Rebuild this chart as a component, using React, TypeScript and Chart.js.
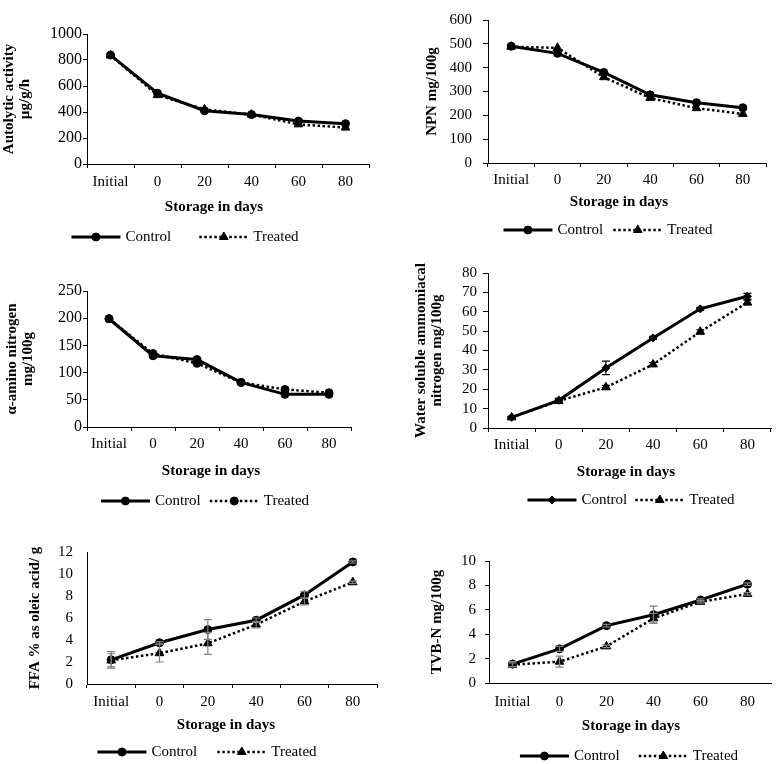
import React, { useEffect, useRef } from 'react';
import { Chart, registerables } from 'chart.js';
import { drawPoint } from 'chart.js/helpers';

Chart.register(...registerables);

// ---------- data ----------
const categories = ['Initial', '0', '20', '40', '60', '80'];
const seriesNames = ['Control', 'Treated'];
const xAxisTitle = 'Storage in days';

const autolyticControl = [838, 545, 410, 380, 330, 310];
const autolyticTreated = [835, 530, 420, 380, 305, 280];

const npnControl = [490, 460, 380, 286, 253, 232];
const npnTreated = [488, 483, 360, 273, 230, 206];

const aminoControl = [199, 131, 124, 82, 60, 60];
const aminoTreated = [199, 135, 117, 82, 69, 63];

const wsanControl = [5.5, 14.3, 31, 46.5, 61.5, 68];
const wsanTreated = [5.5, 14, 21, 32.8, 49.7, 64.8];
const wsanControlErr = [0.5, 1, 3.5, 0.8, 0.8, 1.5];
const wsanTreatedErr = [0.5, 0.8, 1, 1, 1, 1.2];

const ffaControl = [2.2, 3.75, 4.95, 5.8, 8.1, 11.1];
const ffaTreated = [2.15, 2.8, 3.7, 5.4, 7.5, 9.25];
const ffaControlErr = [0.75, 0.1, 0.9, 0.2, 0.3, 0.1];
const ffaTreatedErr = [0.6, 0.8, 1.0, 0.3, 0.3, 0.1];

const tvbnControl = [1.55, 2.8, 4.7, 5.6, 6.8, 8.1];
const tvbnTreated = [1.5, 1.75, 3.0, 5.3, 6.65, 7.3];
const tvbnControlErr = [0.2, 0.2, 0.1, 0.7, 0.1, 0.1];
const tvbnTreatedErr = [0.15, 0.45, 0.1, 0.4, 0.1, 0.1];

const FONT = '"Liberation Serif", "Times New Roman", serif';
const FS = 15;
const TITLE_LH = 1.1;

interface PanelSpec {
  left: number; top: number; w: number; h: number;
  chartL: number; chartR: number; chartT: number; chartB: number;
  titleLine1X: number;
  yTitle: string | string[]; yMax: number; yStep: number;
  control: number[]; treated: number[];
  controlErr?: number[]; treatedErr?: number[]; errColor?: string;
  controlMarker: string; controlRadius: number;
  treatedMarker: string; treatedRadius: number;
  yTickFont: number;
  yTickLen: number; yTickPad: number; yTicksShow: boolean; xTicksShow: boolean;
  xLabelY: number; xTitleX: number; xTitleY: number;
  legendX: number; legendY: number; legendGap: number;
}

const panels: PanelSpec[] = [
  {
    left: 0, top: 0, w: 390, h: 250,
    chartL: 87, chartR: 369, chartT: 34, chartB: 164, titleLine1X: 9,
    yTitle: ['Autolytic activity', 'µg/g/h'], yMax: 1000, yStep: 200,
    control: autolyticControl, treated: autolyticTreated,
    controlMarker: 'circle', controlRadius: 4, treatedMarker: 'triangle', treatedRadius: 5,
    yTickFont: 16, yTickLen: 4, yTickPad: 1, yTicksShow: true, xTicksShow: true,
    xLabelY: 182, xTitleX: 214, xTitleY: 207, legendX: 185, legendY: 237, legendGap: 28,
  },
  {
    left: 390, top: 0, w: 387, h: 250,
    chartL: 488, chartR: 766, chartT: 8, chartB: 163, titleLine1X: 432.5,
    yTitle: 'NPN mg/100g', yMax: 600, yStep: 100,
    control: npnControl, treated: npnTreated,
    controlMarker: 'circle', controlRadius: 4, treatedMarker: 'triangle', treatedRadius: 5,
    yTickFont: 15, yTickLen: 5, yTickPad: 11, yTicksShow: true, xTicksShow: true,
    xLabelY: 180, xTitleX: 619, xTitleY: 202, legendX: 608, legendY: 230, legendGap: 10,
  },
  {
    left: 0, top: 250, w: 390, h: 270,
    chartL: 87, chartR: 351, chartT: 291, chartB: 427, titleLine1X: 12,
    yTitle: ['α-amino nitrogen', 'mg/100g'], yMax: 250, yStep: 50,
    control: aminoControl, treated: aminoTreated,
    controlMarker: 'circle', controlRadius: 4, treatedMarker: 'circle', treatedRadius: 4,
    yTickFont: 16, yTickLen: 4, yTickPad: 1, yTicksShow: true, xTicksShow: true,
    xLabelY: 444, xTitleX: 211, xTitleY: 471, legendX: 205, legendY: 501, legendGap: 9,
  },
  {
    left: 390, top: 250, w: 387, h: 270,
    chartL: 488, chartR: 776, chartT: 273, chartB: 428, titleLine1X: 421,
    yTitle: ['Water soluble ammomiacal', 'nitrogen mg/100g'], yMax: 80, yStep: 10,
    control: wsanControl, treated: wsanTreated,
    controlErr: wsanControlErr, treatedErr: wsanTreatedErr, errColor: '#000000',
    controlMarker: 'rectRot', controlRadius: 4, treatedMarker: 'triangle', treatedRadius: 5,
    yTickFont: 15, yTickLen: 5, yTickPad: 6, yTicksShow: true, xTicksShow: true,
    xLabelY: 445, xTitleX: 626, xTitleY: 472, legendX: 631, legendY: 500, legendGap: 8,
  },
  {
    left: 0, top: 520, w: 390, h: 244,
    chartL: 87, chartR: 377, chartT: 552, chartB: 684, titleLine1X: 35,
    yTitle: 'FFA % as oleic acid/ g', yMax: 12, yStep: 2,
    control: ffaControl, treated: ffaTreated,
    controlErr: ffaControlErr, treatedErr: ffaTreatedErr, errColor: '#808080',
    controlMarker: 'circle', controlRadius: 4, treatedMarker: 'triangle', treatedRadius: 5,
    yTickFont: 15, yTickLen: 4, yTickPad: 10, yTicksShow: false, xTicksShow: true,
    xLabelY: 702, xTitleX: 226, xTitleY: 725, legendX: 207, legendY: 752, legendGap: 20,
  },
  {
    left: 390, top: 520, w: 387, h: 244,
    chartL: 489, chartR: 773, chartT: 561, chartB: 683, titleLine1X: 437,
    yTitle: 'TVB-N mg/100g', yMax: 10, yStep: 2,
    control: tvbnControl, treated: tvbnTreated,
    controlErr: tvbnControlErr, treatedErr: tvbnTreatedErr, errColor: '#808080',
    controlMarker: 'circle', controlRadius: 4, treatedMarker: 'triangle', treatedRadius: 5,
    yTickFont: 15, yTickLen: 4, yTickPad: 9, yTicksShow: true, xTicksShow: false,
    xLabelY: 702, xTitleX: 631, xTitleY: 726, legendX: 629, legendY: 756, legendGap: 19,
  },
];

function makeOverlay(s: PanelSpec) {
  return {
    id: 'overlay',
    afterDatasetsDraw(chart: any) {
      const errs = [s.controlErr, s.treatedErr];
      const ctx = chart.ctx;
      const ys = chart.scales.y;
      ctx.save();
      ctx.strokeStyle = s.errColor || '#000';
      ctx.lineWidth = 1.2;
      ctx.setLineDash([]);
      errs.forEach((arr, i) => {
        if (!arr) return;
        const meta = chart.getDatasetMeta(i);
        const data = chart.data.datasets[i].data as number[];
        meta.data.forEach((pt: any, j: number) => {
          const e = arr[j];
          if (!e) return;
          const v = data[j];
          const x = pt.x;
          const y1 = ys.getPixelForValue(v + e);
          const y2 = ys.getPixelForValue(v - e);
          ctx.beginPath();
          ctx.moveTo(x, y1); ctx.lineTo(x, y2);
          ctx.moveTo(x - 4, y1); ctx.lineTo(x + 4, y1);
          ctx.moveTo(x - 4, y2); ctx.lineTo(x + 4, y2);
          ctx.stroke();
        });
      });
      ctx.restore();
    },
    afterDraw(chart: any) {
      const ctx = chart.ctx;
      ctx.save();
      // x-axis title
      ctx.fillStyle = '#000';
      ctx.font = `bold ${FS}px ${FONT}`;
      ctx.textAlign = 'center';
      ctx.textBaseline = 'middle';
      ctx.fillText(xAxisTitle, s.xTitleX - s.left, s.xTitleY - s.top);
      // legend
      ctx.font = `${FS}px ${FONT}`;
      const lineLen = 49, textGap = 5;
      const dsets = chart.data.datasets;
      const widths = dsets.map((d: any) => lineLen + textGap + ctx.measureText(d.label).width);
      const total = widths.reduce((a: number, b: number) => a + b, 0) + s.legendGap * (dsets.length - 1);
      let x = s.legendX - s.left - total / 2;
      const y = s.legendY - s.top;
      dsets.forEach((d: any, i: number) => {
        ctx.strokeStyle = '#000';
        ctx.lineWidth = d.borderWidth;
        ctx.setLineDash(d.borderDash || []);
        ctx.beginPath();
        ctx.moveTo(x, y); ctx.lineTo(x + lineLen, y);
        ctx.stroke();
        ctx.setLineDash([]);
        ctx.fillStyle = '#000';
        ctx.lineWidth = 1;
        drawPoint(ctx, { pointStyle: d.pointStyle, radius: d.pointRadius, rotation: 0, borderWidth: 1 } as any, x + lineLen / 2, y);
        ctx.fillStyle = '#000';
        ctx.textAlign = 'left';
        ctx.textBaseline = 'middle';
        ctx.fillText(d.label, x + lineLen + textGap, y);
        x += widths[i] + s.legendGap;
      });
      ctx.restore();
    },
  };
}

function Panel({ spec }: { spec: PanelSpec }) {
  const ref = useRef<HTMLCanvasElement>(null);
  useEffect(() => {
    const s = spec;
    const chartL = s.chartL - s.left;
    const chartR = s.chartR - s.left;
    const chartT = s.chartT - s.top;
    const chartB = s.chartB - s.top;
    const titleHalf = (FS * TITLE_LH) / 2;
    const padL = s.titleLine1X - titleHalf - s.left;
    const xTickLen = 4;
    const xTickPad = s.xLabelY - s.chartB - xTickLen - FS * 0.6;
    const chart = new Chart(ref.current as HTMLCanvasElement, {
      type: 'line',
      data: {
        labels: categories,
        datasets: [
          {
            label: seriesNames[0], data: s.control,
            borderColor: '#000', backgroundColor: '#000', borderWidth: 3,
            pointStyle: s.controlMarker as any, pointRadius: s.controlRadius,
            pointBorderWidth: 1, pointBackgroundColor: '#000', pointBorderColor: '#000',
            tension: 0, fill: false,
          },
          {
            label: seriesNames[1], data: s.treated,
            borderColor: '#000', backgroundColor: '#000', borderWidth: 2.5,
            borderDash: [2.5, 2.5],
            pointStyle: s.treatedMarker as any, pointRadius: s.treatedRadius,
            pointBorderWidth: 1, pointBackgroundColor: '#000', pointBorderColor: '#000',
            tension: 0, fill: false,
          },
        ],
      },
      options: {
        responsive: false,
        animation: false,
        devicePixelRatio: 1,
        layout: { padding: { left: padL, right: s.w - chartR, top: chartT, bottom: 0 } },
        plugins: { legend: { display: false }, tooltip: { enabled: false } },
        scales: {
          x: {
            type: 'category',
            offset: true,
            grid: {
              offset: true, drawOnChartArea: false, drawTicks: true, tickLength: xTickLen,
              color: s.xTicksShow ? '#000' : 'rgba(0,0,0,0)',
              tickColor: s.xTicksShow ? '#000' : 'rgba(0,0,0,0)', lineWidth: 1,
            },
            border: { display: true, color: '#000', width: 1 },
            ticks: { color: '#000', font: { family: FONT, size: FS }, padding: xTickPad, maxRotation: 0, autoSkip: false },
            afterFit: (sc: any) => { sc.height = s.h - chartB; },
          },
          y: {
            min: 0, max: s.yMax,
            ticks: {
              stepSize: s.yStep, autoSkip: false, color: '#000',
              font: { family: FONT, size: s.yTickFont }, padding: s.yTickPad,
              callback: (v: any) => String(v),
            },
            grid: {
              drawOnChartArea: false, drawTicks: true, tickLength: s.yTickLen,
              color: s.yTicksShow ? '#000' : 'rgba(0,0,0,0)',
              tickColor: s.yTicksShow ? '#000' : 'rgba(0,0,0,0)', lineWidth: 1,
            },
            border: { display: true, color: '#000', width: 1 },
            title: {
              display: true, text: s.yTitle, color: '#000', padding: 0,
              font: { family: FONT, size: FS, weight: 'bold', lineHeight: TITLE_LH },
            },
            afterFit: (sc: any) => { sc.width = chartL - padL; },
          },
        },
      } as any,
      plugins: [makeOverlay(s)],
    });
    return () => chart.destroy();
  }, [spec]);
  return (
    <canvas
      ref={ref}
      width={spec.w}
      height={spec.h}
      style={{ position: 'absolute', left: spec.left, top: spec.top, width: spec.w, height: spec.h, display: 'block' }}
    />
  );
}

export default function App() {
  return (
    <div style={{ position: 'absolute', left: 0, top: 0, width: 777, height: 764, background: '#fff', overflow: 'hidden' }}>
      {panels.map((p, i) => (
        <Panel key={i} spec={p} />
      ))}
    </div>
  );
}
